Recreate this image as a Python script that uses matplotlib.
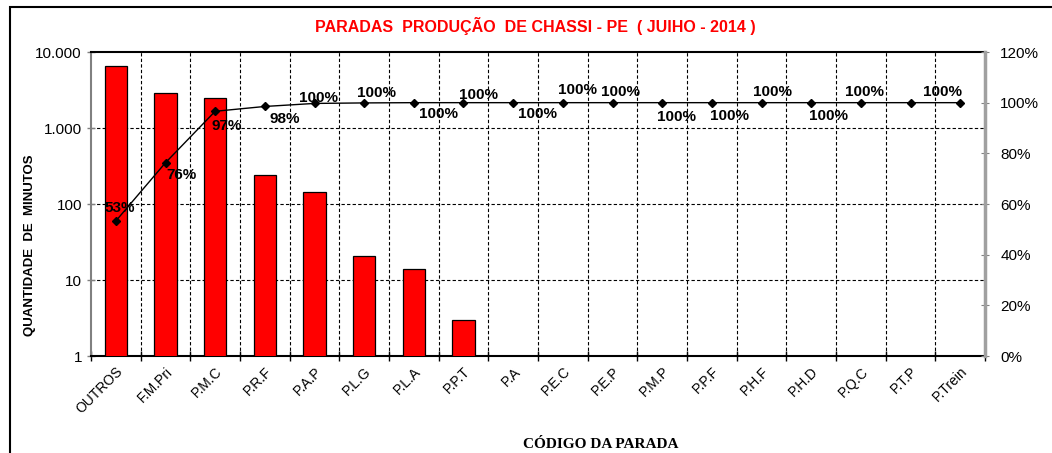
import matplotlib
matplotlib.use("Agg")
import matplotlib.pyplot as plt
import numpy as np
from matplotlib.patches import Rectangle
from matplotlib.ticker import FixedLocator, FuncFormatter

plt.rcParams['font.family'] = ['Liberation Sans', 'DejaVu Sans']

# %%
# values
categories = ["OUTROS", "F.M.Pri", "P.M.C", "P.R.F", "P.A.P", "P.L.G", "P.L.A",
              "P.P.T", "P.A", "P.E.C", "P.E.P", "P.M.P", "P.P.F", "P.H.F",
              "P.H.D", "P.Q.C", "P.T.P", "P.Trein"]
minutes = [6540, 2860, 2450, 239, 144, 21, 14, 3, 0, 0, 0, 0, 0, 0, 0, 0, 0, 0]
cum_pct = [53.3, 76.3, 96.6, 98.5, 99.7, 99.9, 100, 100, 100, 100, 100, 100,
           100, 100, 100, 100, 100, 100]
show_label = [True] * 16 + [False, True]

# label offsets in pixels (dx, dy), as placed in the reference
label_off = [(4, 13), (16, -12), (12, -15), (20, -13), (4, 5), (12, 10),
             (25, -11), (15, 8), (24, -11), (15, 13), (8, 11), (14, -14),
             (18, -13), (11, 11), (17, -13), (4, 11), (0, 11), (-18, 11)]

# %%
fig = plt.figure(figsize=(10.52, 4.53), dpi=100)
W, H = 1052, 453
ax = fig.add_axes([91 / W, 1 - 356 / H, (985 - 91) / W, (356 - 52) / H])

x = np.arange(len(categories))
vals = np.array(minutes, dtype=float)
pos = vals > 0
ax.set_yscale("log")
ax.bar(x[pos], vals[pos], width=0.45, color="#FF0000", edgecolor="black",
       linewidth=0.9, zorder=3)
ax.set_ylim(1, 10000)
ax.set_xlim(-0.5, len(categories) - 0.5)

ax.yaxis.set_major_locator(FixedLocator([1, 10, 100, 1000, 10000]))
ax.yaxis.set_minor_locator(FixedLocator([]))
ax.yaxis.set_major_formatter(FuncFormatter(lambda v, p: f"{int(v):,}".replace(",", ".")))
for yv in [10, 100, 1000]:
    ax.axhline(yv, color="black", lw=0.8, ls=(0, (3, 2)), zorder=1)
for xb in np.arange(0.5, len(categories) - 1, 1.0):
    ax.axvline(xb, color="black", lw=0.8, ls=(0, (3, 2)), zorder=1)

ax.set_xticks(x)
ax.set_xticklabels(categories, rotation=45, ha="right", rotation_mode="anchor",
                   fontsize=10)
ax.set_xticks(np.arange(-0.5, len(categories), 1.0), minor=True)
ax.tick_params(axis="x", which="major", length=0, pad=6)
ax.tick_params(axis="x", which="minor", length=7, direction="inout", width=1)
ax.tick_params(axis="y", which="major", length=6, direction="inout", color="#808080",
               labelsize=11, width=1)

ax.spines["left"].set_color("#808080")
ax.spines["left"].set_linewidth(1.5)
ax.spines["bottom"].set_linewidth(1.5)
ax.spines["top"].set_linewidth(1.5)
ax.spines["right"].set_visible(False)

ax.set_ylabel("QUANTIDADE  DE  MINUTOS", fontsize=9.5, fontweight="bold")
ax.yaxis.set_label_coords(-0.062, 0.365)
ax.set_xlabel("CÓDIGO DA PARADA", fontsize=11, fontweight="bold",
              family=["Liberation Serif", "DejaVu Serif"])
ax.xaxis.set_label_coords(0.57, -0.27)

# %%
ax2 = ax.twinx()
ax2.plot(x, cum_pct, color="black", lw=1, marker="D", markersize=4.5, zorder=5)
ax2.set_ylim(0, 120)
ax2.set_yticks(np.arange(0, 121, 20))
ax2.yaxis.set_major_formatter(FuncFormatter(lambda v, p: f"{int(v)}%"))
ax2.tick_params(axis="y", length=6, direction="inout", color="#808080",
                labelsize=11, pad=8)
ax2.spines["right"].set_color("#a0a0a0")
ax2.spines["right"].set_linewidth(2.5)
for s in ["left", "top", "bottom"]:
    ax2.spines[s].set_visible(False)

for i, p in enumerate(cum_pct):
    if not show_label[i]:
        continue
    dx, dy = label_off[i]
    ax2.annotate(f"{p:.0f}%", (x[i], p), xytext=(dx, dy), textcoords="offset pixels",
                 ha="center", va="center", fontsize=11, fontweight="bold", zorder=6)

fig.text(535 / W, 1 - 26 / H, "PARADAS  PRODUÇÃO  DE CHASSI - PE  ( JUIHO - 2014 )",
         color="#FF0000", fontsize=11.5, fontweight="bold", ha="center", va="center")

fig.patches.append(Rectangle((10 / W, -0.1), 1.2, 1 - 7 / H + 0.1,
                             transform=fig.transFigure, fill=False,
                             edgecolor="black", lw=1.5))

fig.savefig("out.png", dpi=100)
